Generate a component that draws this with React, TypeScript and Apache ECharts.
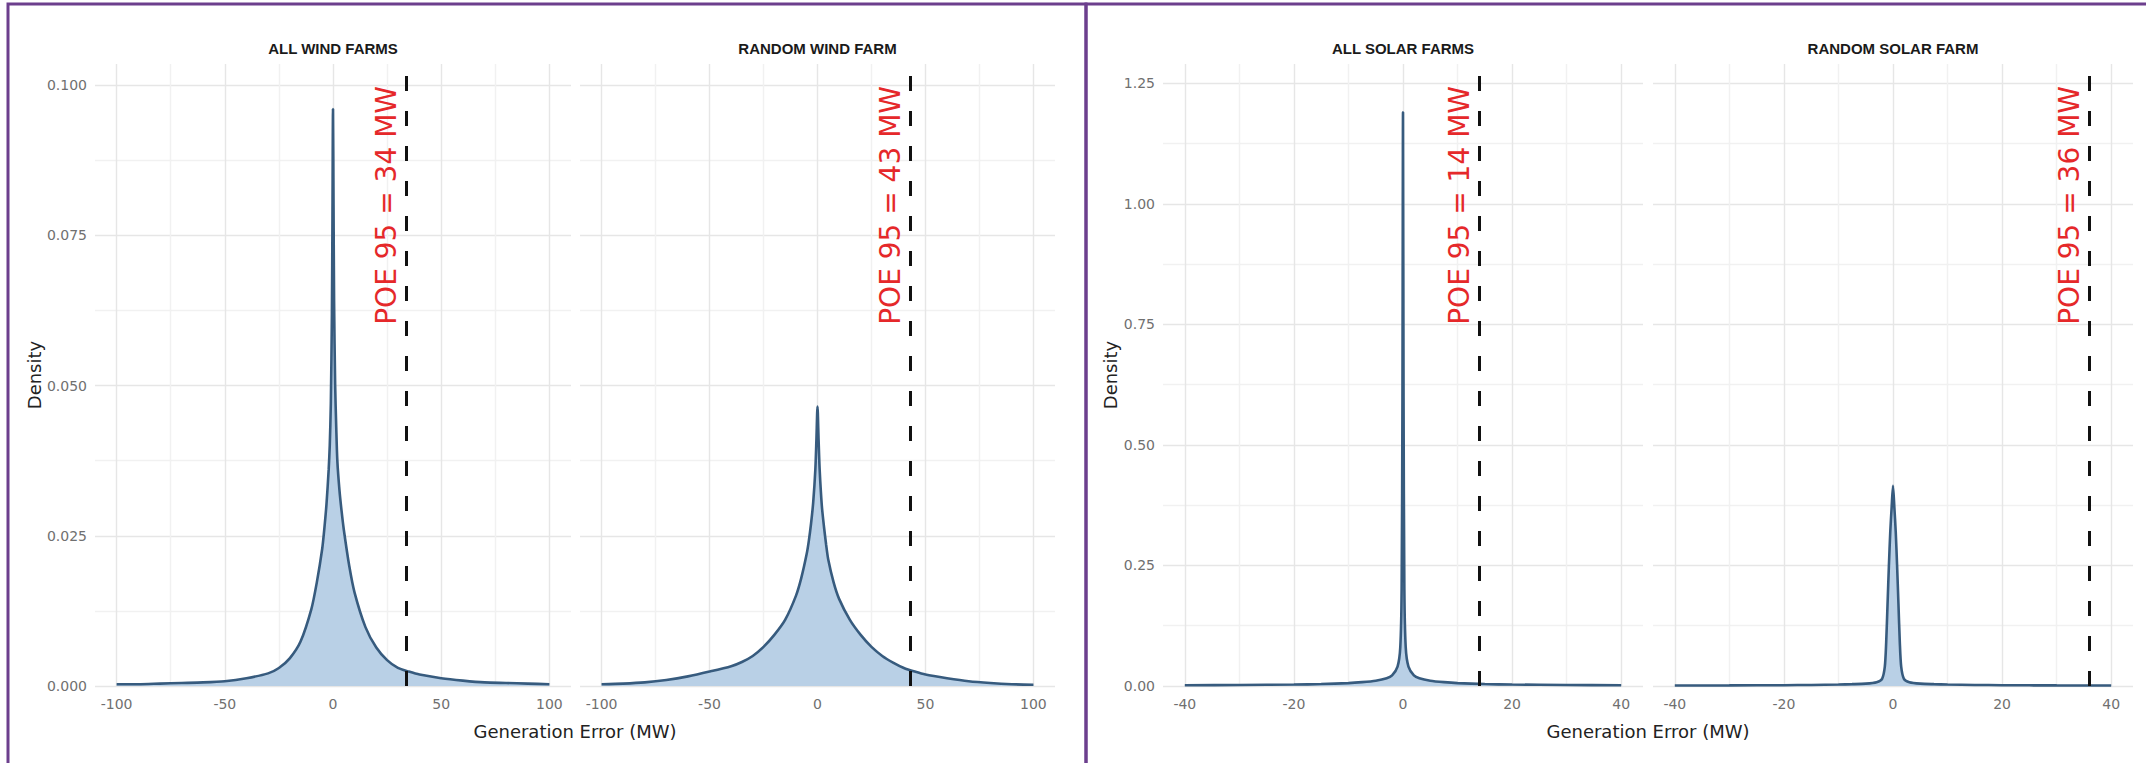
import React, { useEffect, useRef } from 'react';
import * as echarts from 'echarts';

// ---------------- data ----------------
const PANEL_TITLES = ['ALL WIND FARMS', 'RANDOM WIND FARM', 'ALL SOLAR FARMS', 'RANDOM SOLAR FARM'];
const POE_MW = [34, 43, 14, 36];

const WIND_X_TICKS = [-100, -50, 0, 50, 100];
const SOLAR_X_TICKS = [-40, -20, 0, 20, 40];
const WIND_DENSITY_TICKS = [0, 0.025, 0.05, 0.075, 0.1];
const SOLAR_DENSITY_TICKS = [0, 0.25, 0.5, 0.75, 1, 1.25];

const WIND_ALL_X = [-100, -90, -80, -70, -60, -50, -40, -30, -25, -20, -15, -10, -7.5, -5, -4, -3, -2, -1.5, -1, -0.5,
  -0.25, 0, 0.25, 0.5, 1, 1.5, 2, 3, 4, 5, 7.5, 10, 15, 20, 25, 30, 35, 40, 50, 60, 70, 80, 90, 100];
const WIND_ALL_DENSITY = [0.0003, 0.0003, 0.0004, 0.0005, 0.0006, 0.0008, 0.0013, 0.0021, 0.0030, 0.0046,
  0.0074, 0.0128, 0.0172, 0.0228, 0.0262, 0.0303, 0.0360, 0.0400, 0.0470, 0.0620,
  0.0780, 0.0960, 0.0800, 0.0640, 0.0500, 0.0430, 0.0375, 0.0325, 0.0290, 0.0260,
  0.0200, 0.0155, 0.0098, 0.0064, 0.0043, 0.0030, 0.0024, 0.0019, 0.0013, 0.0009,
  0.0006, 0.0005, 0.0004, 0.0003];

const WIND_RANDOM_X = [-100, -90, -80, -70, -60, -50, -40, -35, -30, -25, -20, -15, -10, -7.5, -5, -4, -3, -2, -1, -0.5,
  0, 0.5, 1, 2, 3, 4, 5, 7.5, 10, 15, 20, 25, 30, 35, 40, 45, 50, 60, 70, 80, 90, 100];
const WIND_RANDOM_DENSITY = [0.0003, 0.0004, 0.0006, 0.0010, 0.0016, 0.0024, 0.0033, 0.0040, 0.0050, 0.0065,
  0.0085, 0.0110, 0.0150, 0.0180, 0.0220, 0.0242, 0.0270, 0.0305, 0.0360, 0.0410,
  0.0465, 0.0410, 0.0360, 0.0300, 0.0265, 0.0235, 0.0210, 0.0172, 0.0145, 0.0110,
  0.0085, 0.0065, 0.0050, 0.0039, 0.0030, 0.0024, 0.0019, 0.0013, 0.0008, 0.0005,
  0.0003, 0.0002];

const SOLAR_ALL_X = [-40, -30, -20, -15, -10, -7.5, -5, -3, -2, -1, -0.5, -0.25, -0.1, 0, 0.1, 0.25, 0.5, 1, 2, 3,
  5, 7.5, 10, 15, 20, 30, 40];
const SOLAR_ALL_DENSITY = [0.0015, 0.002, 0.003, 0.004, 0.006, 0.008, 0.011, 0.016, 0.022, 0.04, 0.08, 0.2, 0.6,
  1.19, 0.6, 0.2, 0.08, 0.04, 0.022, 0.016, 0.011, 0.008, 0.006, 0.004, 0.003, 0.002, 0.0015];

const SOLAR_RANDOM_X = [-40, -30, -20, -15, -10, -7.5, -5, -3, -2, -1.5, -1.25, -1, -0.75, -0.5, -0.25, 0, 0.25, 0.5,
  0.75, 1, 1.25, 1.5, 2, 3, 5, 7.5, 10, 15, 20, 30, 40];
const SOLAR_RANDOM_DENSITY = [0.001, 0.0012, 0.0017, 0.0022, 0.003, 0.0038, 0.005, 0.008, 0.015, 0.04, 0.09, 0.17,
  0.25, 0.32, 0.37, 0.415, 0.37, 0.32, 0.25, 0.17, 0.09, 0.04, 0.015, 0.008, 0.005, 0.0038, 0.003, 0.0022, 0.0017,
  0.0012, 0.001];

// ---------------- layout & style ----------------
const W = 2146;
const H = 763;
const PLOT_TOP = 64;
const PLOT_H = 622;
const GRIDS = [
  { left: 95, width: 476 },
  { left: 580, width: 475 },
  { left: 1163, width: 480 },
  { left: 1653, width: 480 },
];

const FONT = "'DejaVu Sans', 'Liberation Sans', sans-serif";
const TITLE_FONT = "'Liberation Sans', Arial, sans-serif";
const GRID_MAJOR = '#e6e6e6';
const GRID_MINOR = '#f1f1f1';
const NONE = 'rgba(255,255,255,0)';
const LINE = '#375b7e';
const FILL = '#b9d0e6';
const RED = '#e5282a';
const PURPLE = '#6c3f8d';
const TICK_COLOR = '#707070';

type Kind = 'wind' | 'solar';
const PANELS: { kind: Kind; xs: number[]; ys: number[]; showY: boolean; nameGap: number }[] = [
  { kind: 'wind', xs: WIND_ALL_X, ys: WIND_ALL_DENSITY, showY: true, nameGap: 52 },
  { kind: 'wind', xs: WIND_RANDOM_X, ys: WIND_RANDOM_DENSITY, showY: false, nameGap: 0 },
  { kind: 'solar', xs: SOLAR_ALL_X, ys: SOLAR_ALL_DENSITY, showY: true, nameGap: 44 },
  { kind: 'solar', xs: SOLAR_RANDOM_X, ys: SOLAR_RANDOM_DENSITY, showY: false, nameGap: 0 },
];

const near = (a: number, b: number) => Math.abs(a - b) < 1e-7;
const inList = (v: number, list: number[]) => list.some((t) => near(t, v));
const midpoints = (list: number[]) => list.slice(1).map((t, i) => (t + list[i]) / 2);

function lineColors(min: number, max: number, step: number, majors: number[]) {
  const minors = midpoints(majors);
  const colors: string[] = [];
  const n = Math.floor((max - min) / step + 1e-9);
  for (let k = 0; k <= n; k++) {
    const v = min + k * step;
    colors.push(inList(v, majors) ? GRID_MAJOR : inList(v, minors) ? GRID_MINOR : NONE);
  }
  if (max - (min + n * step) > 1e-9) colors.push(NONE);
  return colors;
}

function buildOption() {
  const xAxis = PANELS.map((p, i) => {
    const wind = p.kind === 'wind';
    const lim = wind ? 110 : 44;
    const step = wind ? 5 : 2;
    const ticks = wind ? WIND_X_TICKS : SOLAR_X_TICKS;
    return {
      type: 'value',
      gridIndex: i,
      min: -lim,
      max: lim,
      interval: step,
      axisLine: { show: false },
      axisTick: { show: false },
      axisLabel: {
        show: true,
        margin: 11,
        color: TICK_COLOR,
        fontSize: 14,
        fontFamily: FONT,
        formatter: (v: number) => (inList(v, ticks) ? String(Math.round(v)) : ''),
      },
      splitLine: { show: true, lineStyle: { color: lineColors(-lim, lim, step, ticks), width: 1.4 } },
    };
  });

  const yAxis = PANELS.map((p, i) => {
    const wind = p.kind === 'wind';
    const max = wind ? 0.1035 : 1.29;
    const step = wind ? 0.0125 : 0.125;
    const ticks = wind ? WIND_DENSITY_TICKS : SOLAR_DENSITY_TICKS;
    const digits = wind ? 3 : 2;
    return {
      type: 'value',
      gridIndex: i,
      min: 0,
      max,
      interval: step,
      axisLine: { show: false },
      axisTick: { show: false },
      axisLabel: {
        show: p.showY,
        margin: 8,
        color: TICK_COLOR,
        fontSize: 14,
        fontFamily: FONT,
        formatter: (v: number) => (inList(v, ticks) ? v.toFixed(digits) : ''),
      },
      splitLine: { show: true, lineStyle: { color: lineColors(0, max, step, ticks), width: 1.4 } },
      name: p.showY ? 'Density' : '',
      nameLocation: 'middle',
      nameGap: p.nameGap,
      nameTextStyle: { color: '#222', fontSize: 18, fontFamily: FONT },
    };
  });

  const series = PANELS.map((p, i) => ({
    type: 'line',
    xAxisIndex: i,
    yAxisIndex: i,
    data: p.xs.map((x, j) => [x, p.ys[j]]),
    symbol: 'none',
    showSymbol: false,
    smooth: 0.25,
    lineStyle: { color: LINE, width: 2.6 },
    areaStyle: { color: FILL, opacity: 1 },
    emphasis: { disabled: true },
    markLine: {
      silent: true,
      symbol: ['none', 'none'],
      lineStyle: { color: '#111111', width: 3, type: [15, 20] },
      emphasis: { disabled: true },
      label: {
        show: true,
        position: 'insideEndTop',
        formatter: `POE 95 = ${POE_MW[i]} MW`,
        color: RED,
        fontSize: 28,
        fontFamily: FONT,
        distance: [22, 6],
      },
      data: [{ xAxis: POE_MW[i] }],
    },
  }));

  const centers = GRIDS.map((g) => g.left + g.width / 2);
  const text = (x: number, y: number, t: string, font: string, fill: string) => ({
    type: 'text',
    x,
    y,
    silent: true,
    style: { text: t, font, fill, textAlign: 'center', textVerticalAlign: 'middle', align: 'center', verticalAlign: 'middle' },
  });

  const elements: any[] = [
    {
      type: 'rect',
      silent: true,
      shape: { x: 8, y: 4, width: 1078, height: 820 },
      style: { fill: 'none', stroke: PURPLE, lineWidth: 3 },
    },
    {
      type: 'rect',
      silent: true,
      shape: { x: 1086, y: 4, width: 1100, height: 820 },
      style: { fill: 'none', stroke: PURPLE, lineWidth: 3 },
    },
    ...PANEL_TITLES.map((t, i) => text(centers[i], 48, t, `bold 15px ${TITLE_FONT}`, '#1a1a1a')),
    text((GRIDS[0].left + GRIDS[1].left + GRIDS[1].width) / 2, 731, 'Generation Error (MW)', `18px ${FONT}`, '#222'),
    text((GRIDS[2].left + GRIDS[3].left + GRIDS[3].width) / 2, 731, 'Generation Error (MW)', `18px ${FONT}`, '#222'),
  ];

  return {
    animation: false,
    backgroundColor: '#ffffff',
    grid: GRIDS.map((g) => ({ left: g.left, top: PLOT_TOP, width: g.width, height: PLOT_H })),
    xAxis,
    yAxis,
    series,
    graphic: { elements },
  };
}

export default function App() {
  const ref = useRef<HTMLDivElement>(null);
  useEffect(() => {
    if (!ref.current) return;
    const chart = echarts.init(ref.current, undefined, { renderer: 'svg', width: W, height: H });
    chart.setOption(buildOption() as any);
    return () => chart.dispose();
  }, []);
  return <div ref={ref} style={{ position: 'fixed', left: 0, top: 0, width: W, height: H, background: '#fff' }} />;
}
